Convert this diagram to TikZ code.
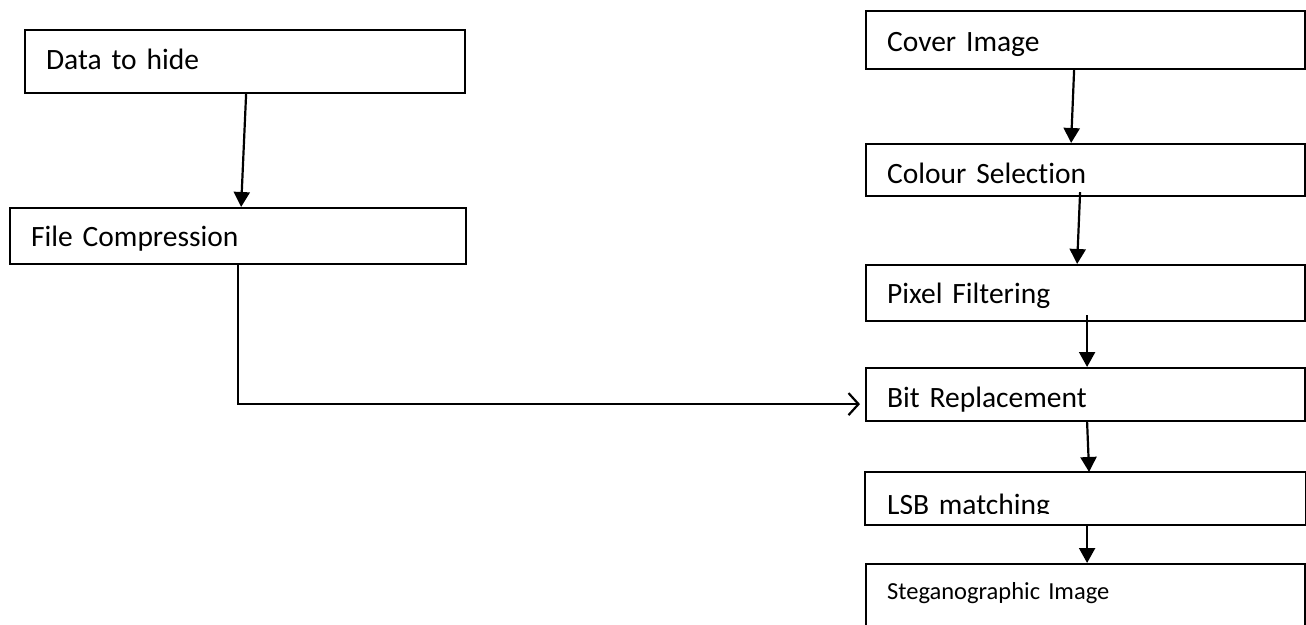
\documentclass[tikz,border=0pt]{standalone}
\usepackage{fontspec}
\setmainfont{Carlito}[Ligatures=NoCommon, WordSpace=0.65]
\usetikzlibrary{arrows.meta}

\begin{document}
\begin{tikzpicture}[x=1pt, y=-1pt, line width=2.2pt,
		>={Triangle[width=16pt,length=15pt]},
		blk/.style={draw, anchor=north west, inner xsep=21pt, inner ysep=0pt, align=left,
			font=\fontsize{29.5}{33}\selectfont}]
				\useasboundingbox (0,0) rectangle (1306,624);
				% data path on the left
				\node[blk, text width=398pt, text height=39pt, text depth=24pt] (data)at(24, 29) {Data to hide};
				\node[blk, text width=414pt, text height=38pt, text depth=18pt] (comp)at(9, 207) {File Compression};
				% image path on the right
				\node[blk, text width=397pt, text height=40pt, text depth=18pt] (cover)at(865, 10) {Cover Image};
				\node[blk, text width=397pt, text height=39pt, text depth=13pt] (colour)at(865, 143) {Colour Selection};
				\node[blk, text width=397pt, text height=38pt, text depth=18pt] (pixel)at(865, 264) {Pixel Filtering};
				\node[blk, text width=397pt, text height=39pt, text depth=14pt] (bit)at(865, 367) {Bit Replacement};
				\begin{scope}
					\clip (865, 472) rectangle (1304, 513);
					\node[blk, draw=none, text width=397pt, text height=41pt, text depth=10pt] (lsb)at(865, 472) {LSB matching};
				\end{scope}
				\draw (lsb.north west) rectangle (lsb.south east);
				\node[blk, text width=397pt, text height=35pt, text depth=55pt, font=\fontsize{24.5}{29}\selectfont] (steg)at(865, 563) {Steganographic Image};
				\draw[->] ([xshift=1pt]data.south) -- ([xshift=3pt]comp.north);
				\draw[->] ([xshift=-11.5pt]cover.south) -- ([xshift=-14.5pt]colour.north);
				\draw[->] ([xshift=-5.5pt, yshift=5pt]colour.south) -- ([xshift=-8.5pt]pixel.north);
				\draw[->] ([xshift=1.5pt, yshift=7pt]pixel.south) -- ([xshift=1.5pt]bit.north);
				\draw[->] ([xshift=1.5pt]bit.south) -- ([xshift=3.5pt]lsb.north);
				\draw[->] ([xshift=1.5pt]lsb.south) -- ([xshift=1.5pt]steg.north);
				\draw[-{Straight Barb[length=10pt, width=22pt]}] (comp.south) |- ([xshift=-5pt, yshift=-9.5pt]bit.west);
			\end{tikzpicture}
\end{document}
